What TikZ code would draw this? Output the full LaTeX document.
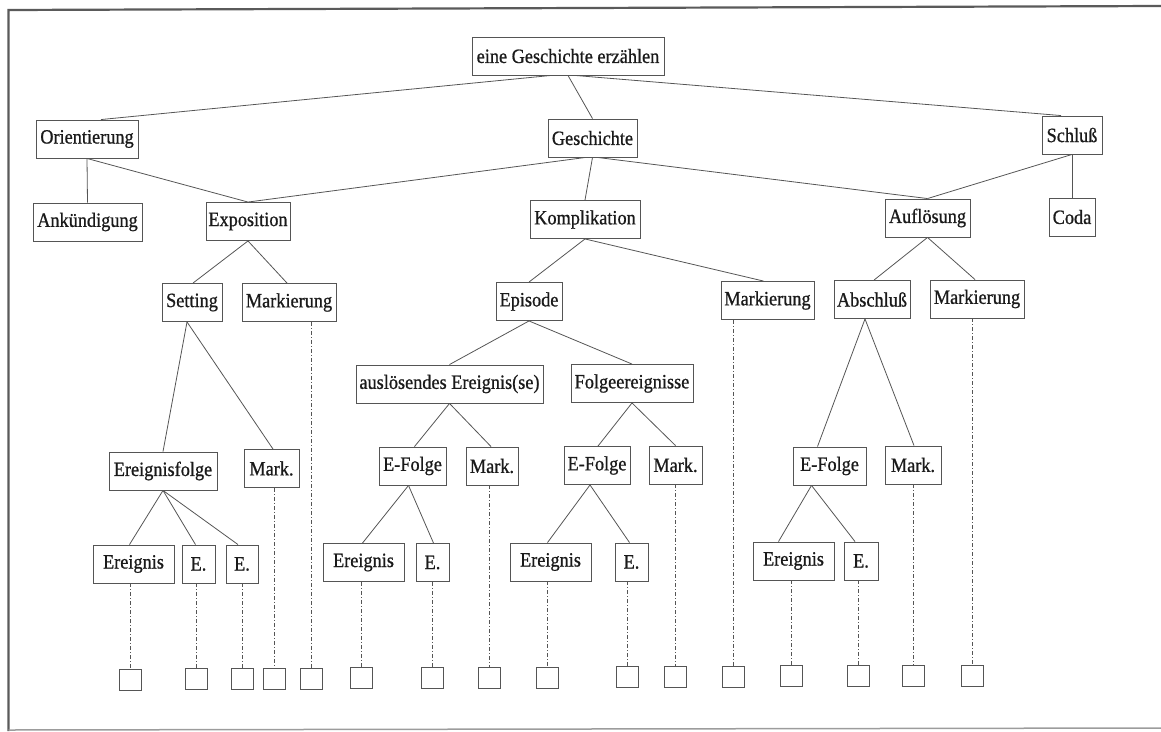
\documentclass[tikz,border=0pt]{standalone}
\usepackage{fontspec}
\setmainfont{Liberation Serif}
\newfontfamily\boxfont{Liberation Serif}[FakeStretch=0.9, FakeBold=0.8]
\definecolor{linec}{HTML}{555555}
\definecolor{textc}{HTML}{1A1A1A}
\definecolor{framec}{HTML}{5A5A5A}
\begin{document}
\begin{tikzpicture}[x=1pt,y=-1pt,
  box/.style={draw=linec, line width=0.9pt, inner sep=0pt, minimum height=38pt,
    font=\boxfont\fontsize{20.3}{22}\selectfont, text=textc},
  sqbox/.style={draw=linec, line width=0.9pt, minimum width=22pt, minimum height=21pt, inner sep=0pt},
  conn/.style={draw=linec, line width=0.8pt},
  dd/.style={draw=linec, line width=0.8pt, dash pattern=on 4pt off 2pt on 1pt off 2pt}]
\useasboundingbox (0,0) rectangle (1161,731);
% frame
\coordinate (fTL) at (8.5,10);
\coordinate (fTR) at (1161,6);
\coordinate (fBL) at (8.5,731);
\coordinate (bL) at (8.5,730);
\coordinate (bR) at (1161,728);
\draw[framec, line width=2.2pt] (fBL) -- (fTL) -- (fTR);
\draw[framec!60, line width=1.5pt] (bL) -- (bR);

% row 1
\node[box, minimum width=192pt] (top) at (568,56) {eine Geschichte erzählen};
% row 2
\node[box, minimum width=102pt] (ori) at (87,139) {Orientierung};
\node[box, minimum width=89pt] (gesch) at (592.5,138) {Geschichte};
\node[box, minimum width=60pt] (schl) at (1072,135) {Schluß};
% row 3
\node[box, minimum width=109pt] (ank) at (87.5,222) {Ankündigung};
\node[box, minimum width=84pt] (expo) at (248,221.5) {Exposition};
\node[box, minimum width=110pt] (kompl) at (585,219.5) {Komplikation};
\node[box, minimum width=85pt] (aufl) at (927.5,218) {Auflösung};
\node[box, minimum width=46pt] (coda) at (1072,217) {Coda};
% row 4
\node[box, minimum width=60pt] (sett) at (192,302.5) {Setting};
\node[box, minimum width=94pt] (mark1) at (289,302.5) {Markierung};
\node[box, minimum width=66pt] (epi) at (529,301.5) {Episode};
\node[box, minimum width=93pt] (mark2) at (767.5,300.5) {Markierung};
\node[box, minimum width=76pt] (absch) at (872,299.5) {Abschluß};
\node[box, minimum width=94pt] (mark3) at (977,299) {Markierung};
% row 5
\node[box, minimum width=187pt] (ausl) at (449.5,384) {auslösendes Ereignis(se)};
\node[box, minimum width=122pt] (folge) at (632,383.5) {Folgeereignisse};
% row 6
\node[box, minimum width=108pt] (ereifolge) at (163,471) {Ereignisfolge};
\node[box, minimum width=55pt] (m1) at (271.5,468.5) {Mark.};
\node[box, minimum width=67pt] (ef1) at (412.5,466) {E-Folge};
\node[box, minimum width=52pt] (m2) at (492,466) {Mark.};
\node[box, minimum width=66pt] (ef2) at (597,465.5) {E-Folge};
\node[box, minimum width=53pt] (m3) at (675.5,465) {Mark.};
\node[box, minimum width=73pt] (ef3) at (829.5,466) {E-Folge};
\node[box, minimum width=56pt] (m4) at (913,465) {Mark.};
% row 7
\node[box, minimum width=81pt] (er1) at (133.5,564) {Ereignis};
\node[box, minimum width=33pt] (e1) at (198.5,564) {E.};
\node[box, minimum width=32pt] (e2) at (242,564) {E.};
\node[box, minimum width=81pt] (er2) at (363.5,562.5) {Ereignis};
\node[box, minimum width=33pt] (e3) at (432.5,562.5) {E.};
\node[box, minimum width=81pt] (er3) at (550.5,562) {Ereignis};
\node[box, minimum width=33pt] (e4) at (631.5,562) {E.};
\node[box, minimum width=81pt] (er4) at (793.5,561) {Ereignis};
\node[box, minimum width=34pt] (e5) at (861,561) {E.};
% squares
\node[sqbox] (s1) at (130,679.5) {};
\node[sqbox] (s2) at (196,679.2) {};
\node[sqbox] (s3) at (242,679) {};
\node[sqbox] (s4) at (274,678.8) {};
\node[sqbox] (s5) at (311,678.6) {};
\node[sqbox] (s6) at (361,678.4) {};
\node[sqbox] (s7) at (432,678.1) {};
\node[sqbox] (s8) at (489,677.8) {};
\node[sqbox] (s9) at (547,677.5) {};
\node[sqbox] (s10) at (627,677.1) {};
\node[sqbox] (s11) at (675,676.9) {};
\node[sqbox] (s12) at (733,676.6) {};
\node[sqbox] (s13) at (791,676.3) {};
\node[sqbox] (s14) at (858,676) {};
\node[sqbox] (s15) at (913,675.7) {};
\node[sqbox] (s16) at (972,675.5) {};

% tree connectors
\draw[conn] ([xshift=-17]top.south) -- ([xshift=14]ori.north);
\draw[conn] (top.south) -- (gesch.north);
\draw[conn] ([xshift=7]top.south) -- ([xshift=-11]schl.north);
\draw[conn] (ori.south) -- (ank.north);
\draw[conn] (ori.south) -- (expo.north);
\draw[conn] ([xshift=-7]gesch.south) -- (expo.north);
\draw[conn] (gesch.south) -- (kompl.north);
\draw[conn] ([xshift=5]gesch.south) -- (aufl.north);
\draw[conn] (schl.south) -- (aufl.north);
\draw[conn] (schl.south) -- (coda.north);
\draw[conn] (expo.south) -- ([xshift=1]sett.north);
\draw[conn] (expo.south) -- ([xshift=-2]mark1.north);
\draw[conn] (kompl.south) -- (epi.north);
\draw[conn] (kompl.south) -- ([xshift=-4]mark2.north);
\draw[conn] (aufl.south) -- ([xshift=2]absch.north);
\draw[conn] (aufl.south) -- ([xshift=-2]mark3.north);
\draw[conn] ([xshift=-5]sett.south) -- (ereifolge.north);
\draw[conn] ([xshift=-5]sett.south) -- ([xshift=1.5]m1.north);
\draw[conn] (epi.south) -- (ausl.north);
\draw[conn] (epi.south) -- (folge.north);
\draw[conn] (ausl.south) -- ([xshift=2]ef1.north);
\draw[conn] (ausl.south) -- ([xshift=-1]m2.north);
\draw[conn] (folge.south) -- ([xshift=1]ef2.north);
\draw[conn] (folge.south) -- (m3.north);
\draw[conn] ([xshift=-7]absch.south) -- ([xshift=-12]ef3.north);
\draw[conn] ([xshift=-7]absch.south) -- ([xshift=1]m4.north);
\draw[conn] (ereifolge.south) -- ([xshift=-4]er1.north);
\draw[conn] (ereifolge.south) -- ([xshift=-3]e1.north);
\draw[conn] (ereifolge.south) -- ([xshift=-4]e2.north);
\draw[conn] ([xshift=-4]ef1.south) -- ([xshift=-1]er2.north);
\draw[conn] ([xshift=-4]ef1.south) -- ([xshift=1]e3.north);
\draw[conn] ([xshift=-7]ef2.south) -- ([xshift=-3]er3.north);
\draw[conn] ([xshift=-7]ef2.south) -- ([xshift=-2]e4.north);
\draw[conn] ([xshift=-18]ef3.south) -- ([xshift=-15]er4.north);
\draw[conn] ([xshift=-18]ef3.south) -- ([xshift=-6]e5.north);

% dash-dotted leads to terminal squares
\draw[dd] (er1.south -| s1.north) -- (s1.north);
\draw[dd] (e1.south -| s2.north) -- (s2.north);
\draw[dd] (e2.south -| s3.north) -- (s3.north);
\draw[dd] (m1.south -| s4.north) -- (s4.north);
\draw[dd] (mark1.south -| s5.north) -- (s5.north);
\draw[dd] (er2.south -| s6.north) -- (s6.north);
\draw[dd] (e3.south -| s7.north) -- (s7.north);
\draw[dd] (m2.south -| s8.north) -- (s8.north);
\draw[dd] (er3.south -| s9.north) -- (s9.north);
\draw[dd] (e4.south -| s10.north) -- (s10.north);
\draw[dd] (m3.south -| s11.north) -- (s11.north);
\draw[dd] (mark2.south -| s12.north) -- (s12.north);
\draw[dd] (er4.south -| s13.north) -- (s13.north);
\draw[dd] (e5.south -| s14.north) -- (s14.north);
\draw[dd] (m4.south -| s15.north) -- (s15.north);
\draw[dd] (mark3.south -| s16.north) -- (s16.north);
\end{tikzpicture}
\end{document}
